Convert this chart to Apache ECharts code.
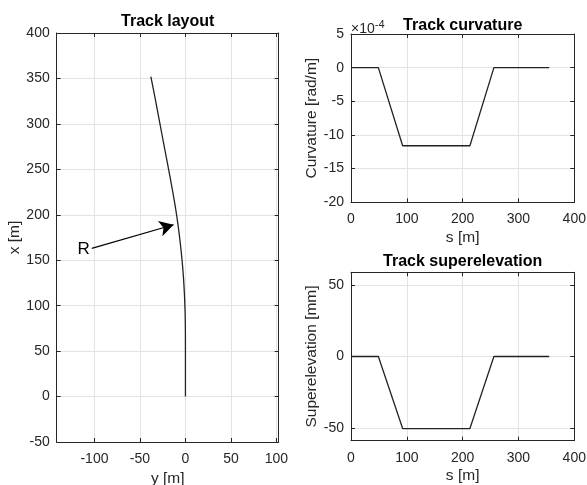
<!DOCTYPE html>
<html>
<head>
<meta charset="utf-8">
<script src="https://cdn.jsdelivr.net/npm/echarts@6/dist/echarts.min.js"></script>
<style>
  html, body { margin: 0; padding: 0; background: #fff; }
  #main { width: 587px; height: 485px; }
</style>
</head>
<body>
<div id="main"></div>
<script>
    // track layout: lateral y [m] and longitudinal x [m]
    const layoutY = [0, 0, -0.05, -0.3, -1.0, -2.1, -3.7, -5.8, -8.3, -11.3, -14.8, -18.5, -23.3, -28.0, -32.7, -38.0]
    const layoutX = [0, 49, 70, 90, 110, 130, 150, 170, 190, 210, 230, 250, 275, 300, 325, 352]
    // arrow pointing at the curve, label R
    const arrowFrom = [-103, 163]
    const arrowTo = [-13, 189]

    // distance along track s [m]
    const sPoints = [0, 49, 92.5, 213, 256, 355]
    // curvature in units of 1e-4 rad/m
    const curvature = [0, 0, -11.6, -11.6, 0, 0]
    // superelevation [mm]
    const superelevation = [0, 0, -50.5, -50.5, 0, 0]

    const layoutTicksX = [-100, -50, 0, 50, 100]

    const FONT = 'Liberation Sans'
    const TXT = '#262626'
    const GRIDC = '#e3e3e3'
    const LINEC = '#222'

    function pairs(a, b) {
        let out = []
        for (let i = 0; i < a.length; i++) {
            out.push([a[i], b[i]])
        }
        return out
    }

    // main axis (with labels) + mirrored axis (ticks only) for the box look
    function mainAxis(pos, idx, opts) {
        return Object.assign({
            type: 'value',
            gridIndex: idx,
            position: pos,
            axisLine: {show: true, onZero: false, lineStyle: {color: TXT, width: 1}},
            axisTick: {show: true, inside: true, length: 4, lineStyle: {color: TXT}},
            axisLabel: {color: TXT, fontFamily: FONT, fontSize: 14, margin: pos === 'bottom' ? 10 : 7},
            splitLine: {show: true, lineStyle: {color: GRIDC, width: 1}},
            nameTextStyle: {color: TXT, fontFamily: FONT, fontSize: 15.5},
            nameLocation: 'middle'
        }, opts)
    }
    function boxAxis(pos, idx, opts) {
        return Object.assign({
            type: 'value',
            gridIndex: idx,
            position: pos,
            axisLine: {show: true, onZero: false, lineStyle: {color: TXT, width: 1}},
            axisTick: {show: true, inside: true, length: 4, lineStyle: {color: TXT}},
            axisLabel: {show: false},
            splitLine: {show: false}
        }, opts)
    }

    const titleStyle = {color: '#000', fontFamily: FONT, fontSize: 16, fontWeight: 'bold'}

    let chart = echarts.init(document.getElementById('main'))
    let option = {
        animation: false,
        backgroundColor: '#fff',
        title: [
            {text: 'Track layout', left: 167.7, top: 14, padding: 0, textAlign: 'center', textStyle: titleStyle},
            {text: 'Track curvature', left: 462.7, top: 17.5, padding: 0, textAlign: 'center', textStyle: titleStyle},
            {text: 'Track superelevation', left: 462.7, top: 254, padding: 0, textAlign: 'center', textStyle: titleStyle}
        ],
        grid: [
            {left: 56.7, top: 33, width: 222, height: 409, outerBoundsMode: 'none'},
            {left: 351, top: 34, width: 223.3, height: 168.3, outerBoundsMode: 'none'},
            {left: 351, top: 272.3, width: 223.3, height: 168.4, outerBoundsMode: 'none'}
        ],
        xAxis: [
            mainAxis('bottom', 0, {min: -141.5, max: 102.5, minInterval: 50, maxInterval: 50,
                axisLabel: {color: TXT, fontFamily: FONT, fontSize: 14, margin: 10, showMinLabel: false, showMaxLabel: false,
                    formatter: v => layoutTicksX.indexOf(v) >= 0 ? String(v) : ''},
                name: 'y [m]', nameGap: 28}),
            mainAxis('bottom', 1, {min: 0, max: 400, interval: 100, name: 's [m]', nameGap: 27}),
            mainAxis('bottom', 2, {min: 0, max: 400, interval: 100, name: 's [m]', nameGap: 27}),
            boxAxis('top', 0, {min: -141.5, max: 102.5, minInterval: 50, maxInterval: 50}),
            boxAxis('top', 1, {min: 0, max: 400, interval: 100}),
            boxAxis('top', 2, {min: 0, max: 400, interval: 100})
        ],
        yAxis: [
            mainAxis('left', 0, {min: -50, max: 400, interval: 50, name: 'x [m]', nameGap: 34}),
            mainAxis('left', 1, {min: -20, max: 5, interval: 5, name: 'Curvature [rad/m]', nameGap: 30}),
            mainAxis('left', 2, {min: -59, max: 59, minInterval: 50, maxInterval: 50,
                axisLabel: {color: TXT, fontFamily: FONT, fontSize: 14, margin: 7, showMinLabel: false, showMaxLabel: false,
                    formatter: v => (v % 50 === 0) ? String(v) : ''},
                name: 'Superelevation [mm]', nameGap: 30}),
            boxAxis('right', 0, {min: -50, max: 400, interval: 50}),
            boxAxis('right', 1, {min: -20, max: 5, interval: 5}),
            boxAxis('right', 2, {min: -59, max: 59, minInterval: 50, maxInterval: 50})
        ],
        graphic: [
            {
                type: 'text', left: 351, top: 19,
                style: {
                    text: '{a|×10}{b|-4}',
                    rich: {
                        a: {fontFamily: FONT, fontSize: 14, fill: TXT},
                        b: {fontFamily: FONT, fontSize: 11, fill: TXT, verticalAlign: 'top', padding: [0, 0, 9, 0]}
                    }
                }
            }
        ],
        series: [
            {
                type: 'line',
                xAxisIndex: 0, yAxisIndex: 0,
                data: pairs(layoutY, layoutX),
                smooth: 0.2,
                showSymbol: false,
                lineStyle: {color: LINEC, width: 1.3},
                markLine: {
                    silent: true,
                    symbol: ['none', 'arrow'],
                    symbolSize: [12, 14],
                    lineStyle: {color: '#000', width: 1.2, type: 'solid'},
                    label: {show: true, position: 'start', formatter: 'R', color: '#000',
                        fontFamily: FONT, fontSize: 17, distance: 2},
                    data: [[{coord: arrowFrom}, {coord: arrowTo}]]
                }
            },
            {
                type: 'line',
                xAxisIndex: 1, yAxisIndex: 1,
                data: pairs(sPoints, curvature),
                showSymbol: false,
                lineStyle: {color: LINEC, width: 1.3}
            },
            {
                type: 'line',
                xAxisIndex: 2, yAxisIndex: 2,
                data: pairs(sPoints, superelevation),
                showSymbol: false,
                lineStyle: {color: LINEC, width: 1.3}
            }
        ]
    }
    option && chart.setOption(option)
</script>
</body>
</html>
